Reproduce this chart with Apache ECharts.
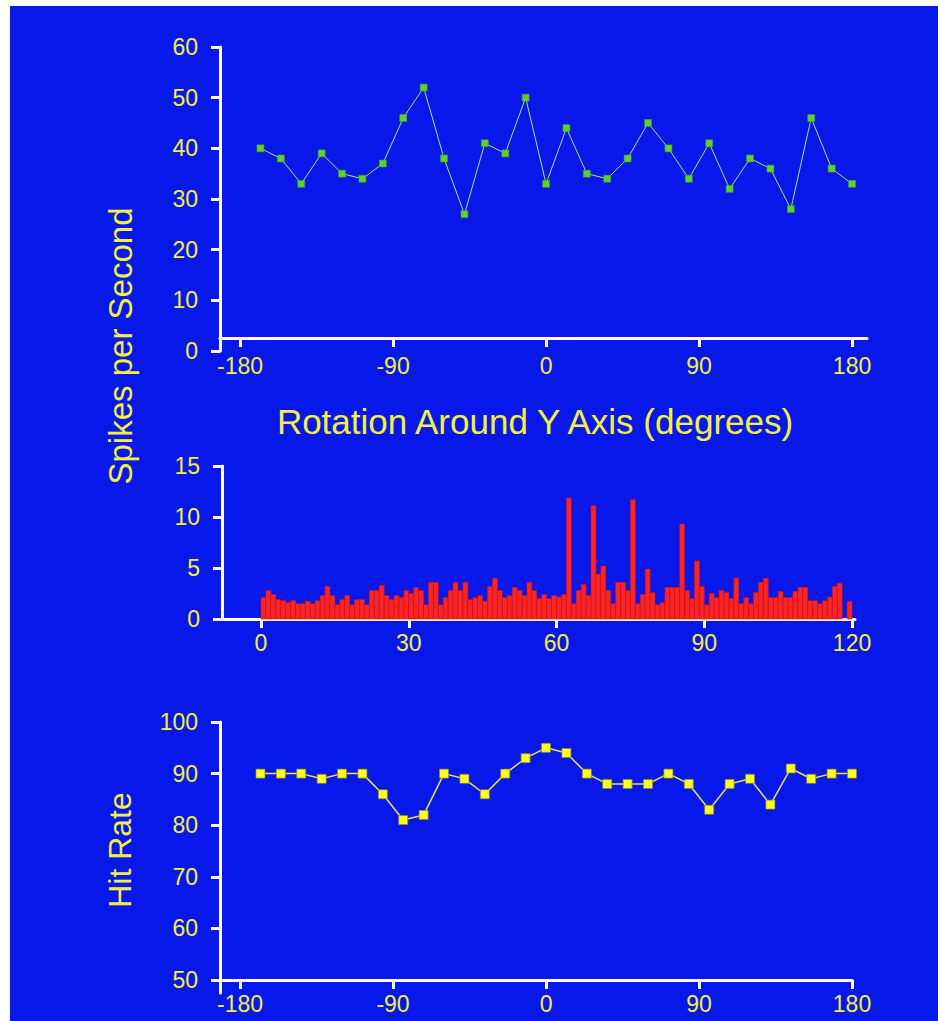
<!DOCTYPE html>
<html><head><meta charset="utf-8">
<script src="https://cdn.jsdelivr.net/npm/echarts@6/dist/echarts.min.js"></script>
<style>
html,body{margin:0;padding:0;background:#fff;}
#bg{position:absolute;left:10px;top:6px;width:928px;height:1015px;background:#0818ea;}
#c{position:absolute;left:0;top:0;width:938px;height:1021px;}
</style>
</head><body><div id="bg"></div><div id="c"></div>
<script>
// ---- data ----
const angles = [-168,-156,-144,-132,-120,-108,-96,-84,-72,-60,-48,-36,-24,-12,0,12,24,36,48,60,72,84,96,108,120,132,144,156,168,180];
const spikeRates = [40,38,33,39,35,34,37,46,52,38,27,41,39,50,33,44,35,34,38,45,40,34,41,32,38,36,28,46,36,33];
const hitRates = [90,90,90,89,90,90,86,81,82,90,89,86,90,93,95,94,90,88,88,88,90,88,83,88,89,84,91,89,90,90];
const binCounts = [
 2.1,2.8,2.4,1.9,1.8,1.6,1.8,1.5,1.5,1.75,
 1.5,1.8,2.3,3.2,2.3,1.4,1.9,2.3,1.4,1.9,
 1.9,1.4,2.8,2.8,3.3,2.3,1.9,2.3,2.1,2.8,
 2.5,3.1,2.8,1.4,3.6,3.6,1.4,2.1,2.8,3.6,
 2.8,3.6,1.9,2.1,2.3,1.75,3.2,4.0,2.8,2.1,
 2.3,3.1,2.8,2.3,3.6,2.8,2.0,2.4,2.0,2.3,
 2.15,2.4,11.85,1.5,2.8,3.4,2.3,11.1,4.4,5.2,
 2.8,1.5,3.6,3.6,2.8,11.7,1.5,2.4,4.9,2.6,
 1.4,1.6,3.1,3.1,3.1,9.3,2.8,2.0,5.7,3.2,
 1.4,2.5,2.1,2.8,2.6,2.0,4.0,1.5,2.1,1.5,
 2.6,3.6,4.0,2.1,2.1,2.7,2.1,2.1,2.7,3.1,
 3.1,1.8,1.8,1.5,1.8,2.15,3.2,3.5,0,1.7
];
const angleTicks = [-180,-90,0,90,180];
const binTicks = [0,30,60,90,120];
const spikeTicks = [0,10,20,30,40,50,60];
const countTicks = [0,5,10,15];
const hitTicks = [50,60,70,80,90,100];

// ---- style ----
const YEL = '#f4f03c';
const FONT = '"Liberation Sans", Arial, sans-serif';
function axisStyle(extra) {
  return Object.assign({
    axisLine: {show: true, onZero: false, lineStyle: {color: '#ffffff', width: 3}},
    axisTick: {show: true, length: 9, lineStyle: {color: '#ffffff', width: 3}},
    axisLabel: {color: YEL, fontSize: 23, fontFamily: FONT},
    splitLine: {show: false}
  }, extra);
}
function deepAxis(base, tickVals, margin) {
  base.axisTick = Object.assign({}, base.axisTick, {customValues: tickVals});
  base.axisLabel = Object.assign({}, base.axisLabel, {customValues: tickVals, margin: margin});
  return base;
}

const chart = echarts.init(document.getElementById('c'), null, {renderer: 'svg'});
chart.setOption({
  backgroundColor: 'transparent',
  animation: false,
  grid: [
    {left: 220, top: 47, width: 647, height: 304},
    {left: 222, top: 466, width: 633, height: 153},
    {left: 220, top: 722, width: 632, height: 271}
  ],
  xAxis: [
    deepAxis(axisStyle({type: 'value', gridIndex: 0, min: -191.8, max: 188.8, offset: -13}), angleTicks, 16),
    deepAxis(axisStyle({type: 'value', gridIndex: 1, min: -7.92, max: 120.6}), binTicks, 12),
    deepAxis(axisStyle({type: 'value', gridIndex: 2, min: -191.8, max: 180, offset: -13}), angleTicks, 12)
  ],
  yAxis: [
    deepAxis(axisStyle({type: 'value', gridIndex: 0, min: 0, max: 60}), spikeTicks, 22),
    deepAxis(axisStyle({type: 'value', gridIndex: 1, min: 0, max: 15}), countTicks, 22),
    deepAxis(axisStyle({type: 'value', gridIndex: 2, min: 47.5, max: 100}), hitTicks, 22)
  ],
  series: [
    {
      type: 'line', xAxisIndex: 0, yAxisIndex: 0,
      data: angles.map((a, i) => [a, spikeRates[i]]),
      symbol: 'rect', symbolSize: 7,
      lineStyle: {color: '#a8e08a', width: 1},
      itemStyle: {color: '#5fd02e', borderColor: '#3f9a22', borderWidth: 0.6}
    },
    {
      type: 'custom', xAxisIndex: 1, yAxisIndex: 1,
      data: binCounts.map((v, i) => [i, v]),
      encode: {x: 0, y: 1},
      renderItem: function (params, api) {
        const i = api.value(0), v = api.value(1);
        if (!v) return null;
        const p0 = api.coord([i, 0]);
        const p1 = api.coord([i + 1, v]);
        return {
          type: 'rect',
          shape: {x: p0[0], y: p1[1], width: p1[0] - p0[0], height: p0[1] - p1[1]},
          style: {fill: '#ff2424', stroke: '#c41424', lineWidth: 0.6}
        };
      }
    },
    {
      type: 'line', xAxisIndex: 2, yAxisIndex: 2,
      data: angles.map((a, i) => [a, hitRates[i]]),
      symbol: 'rect', symbolSize: 9,
      lineStyle: {color: '#e6e25a', width: 1.5},
      itemStyle: {color: '#ffff1e', borderColor: '#8a8a30', borderWidth: 0.7}
    }
  ],
  graphic: [
    {type: 'text', x: 120, y: 346, rotation: Math.PI / 2,
     style: {text: 'Spikes per Second', fill: YEL, fontSize: 33, fontFamily: FONT, align: 'center', verticalAlign: 'middle'}},
    {type: 'text', x: 535, y: 421,
     style: {text: 'Rotation Around Y Axis (degrees)', fill: YEL, fontSize: 35, fontFamily: FONT, align: 'center', verticalAlign: 'middle'}},
    {type: 'text', x: 120, y: 850, rotation: Math.PI / 2,
     style: {text: 'Hit Rate', fill: YEL, fontSize: 32, fontFamily: FONT, align: 'center', verticalAlign: 'middle'}}
  ]
});
</script>
</body></html>
